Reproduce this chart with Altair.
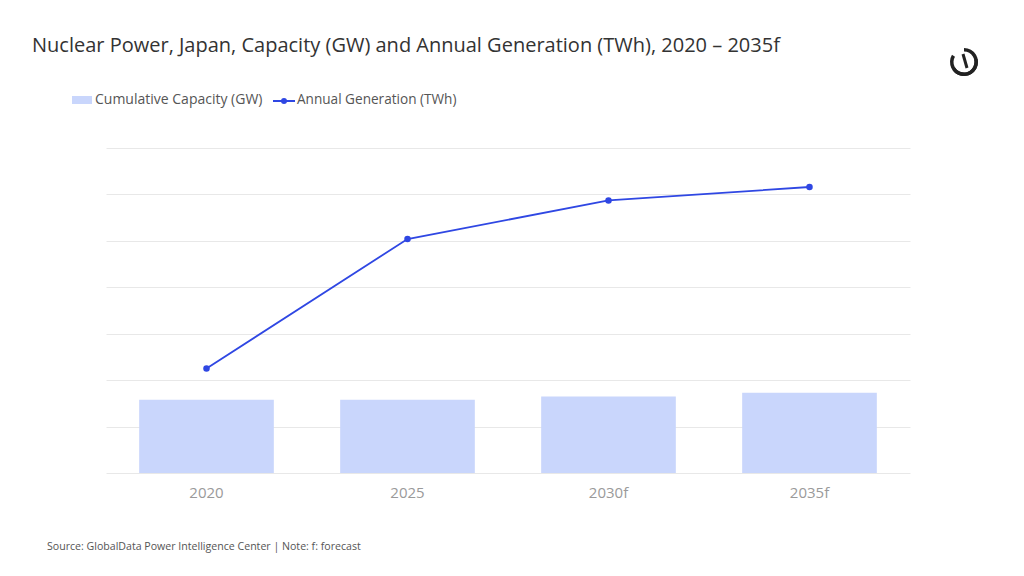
import pandas as pd
import altair as alt

FONT = "Open Sans"
BAR_COLOR = "#c9d6fc"
LINE_COLOR = "#2f47e3"
GRID = "#e8e8e8"

years = ["2020", "2025", "2030f", "2035f"]
capacity_gw = [31.6, 31.6, 33.0, 34.6]
generation_twh = [45.0, 100.8, 117.4, 123.2]

title_text = "Nuclear Power, Japan, Capacity (GW) and Annual Generation (TWh), 2020 \u2013 2035f"
legend_labels = ["Cumulative Capacity (GW)", "Annual Generation (TWh)"]
source_text = "Source: GlobalData Power Intelligence Center | Note: f: forecast"

df = pd.DataFrame({"Year": years, "Capacity": capacity_gw, "Generation": generation_twh})

x_enc = alt.X(
    "Year:N",
    sort=years,
    title=None,
    scale=alt.Scale(paddingInner=0.33, paddingOuter=0.165),
    axis=alt.Axis(labelAngle=0, labelFontSize=15, labelColor="#9a9a9a", labelFont=FONT,
                  labelPadding=12, ticks=False, domain=False, grid=False),
)
y_scale = alt.Scale(domain=[0, 140])
y_axis = alt.Axis(values=list(range(0, 141, 20)), labels=False, ticks=False, domain=False,
                  grid=True, gridColor=GRID, gridWidth=1, title=None)

bars = alt.Chart(df).mark_bar(color=BAR_COLOR).encode(
    x=x_enc,
    y=alt.Y("Capacity:Q", scale=y_scale, axis=y_axis),
)

line = alt.Chart(df).mark_line(color=LINE_COLOR, strokeWidth=1.8).encode(
    x=alt.X("Year:N", sort=years),
    y=alt.Y("Generation:Q", scale=y_scale),
)
points = alt.Chart(df).mark_circle(color=LINE_COLOR, size=42, opacity=1).encode(
    x=alt.X("Year:N", sort=years),
    y=alt.Y("Generation:Q", scale=y_scale),
)

# title, legend, source and logo drawn as annotations around the plot area
one = pd.DataFrame({"t": [title_text]})
title = alt.Chart(one).mark_text(
    font=FONT, fontSize=20, color="#333333", align="left", baseline="alphabetic"
).encode(x=alt.value(-74), y=alt.value(-96), text="t:N")

leg_swatch = alt.Chart(one).mark_rect(color=BAR_COLOR).encode(
    x=alt.value(-34), x2=alt.value(-14), y=alt.value(-52), y2=alt.value(-44)
)
leg_text1 = alt.Chart(pd.DataFrame({"t": [legend_labels[0]]})).mark_text(
    font=FONT, fontSize=14, color="#555555", align="left", baseline="middle"
).encode(x=alt.value(-11), y=alt.value(-48.5), text="t:N")
leg_rule = alt.Chart(one).mark_rule(color=LINE_COLOR, strokeWidth=2).encode(
    x=alt.value(167), x2=alt.value(189), y=alt.value(-47)
)
leg_dot = alt.Chart(one).mark_circle(color=LINE_COLOR, size=36, opacity=1).encode(
    x=alt.value(178), y=alt.value(-47)
)
leg_text2 = alt.Chart(pd.DataFrame({"t": [legend_labels[1]]})).mark_text(
    font=FONT, fontSize=13.6, color="#555555", align="left", baseline="middle"
).encode(x=alt.value(191), y=alt.value(-48.5), text="t:N")

source = alt.Chart(pd.DataFrame({"t": [source_text]})).mark_text(
    font=FONT, fontSize=10.6, color="#555555", align="left", baseline="middle"
).encode(x=alt.value(-59), y=alt.value(399), text="t:N")

logo_arcs = alt.Chart(pd.DataFrame({"a": [0.85, 3.95], "b": [3.30, 6.55]})).mark_arc(
    color="#222222", innerRadius=10.5, outerRadius=14
).encode(x=alt.value(858), y=alt.value(-86), theta="a:Q", theta2="b:Q")
logo_stroke = alt.Chart(one).mark_rule(color="#222222", strokeWidth=3).encode(
    x=alt.value(857), x2=alt.value(861), y=alt.value(-94), y2=alt.value(-80)
)

chart = alt.layer(
    bars, line, points, title, leg_swatch, leg_text1, leg_rule, leg_dot, leg_text2,
    source, logo_arcs, logo_stroke
).properties(
    width=804,
    height=325,
    padding={"left": 98, "top": 140, "right": 98, "bottom": 90},
    autosize=alt.AutoSizeParams(type="none"),
).configure_view(strokeWidth=0)

chart.save("out.html", embed_options={"renderer": "svg", "actions": False})
